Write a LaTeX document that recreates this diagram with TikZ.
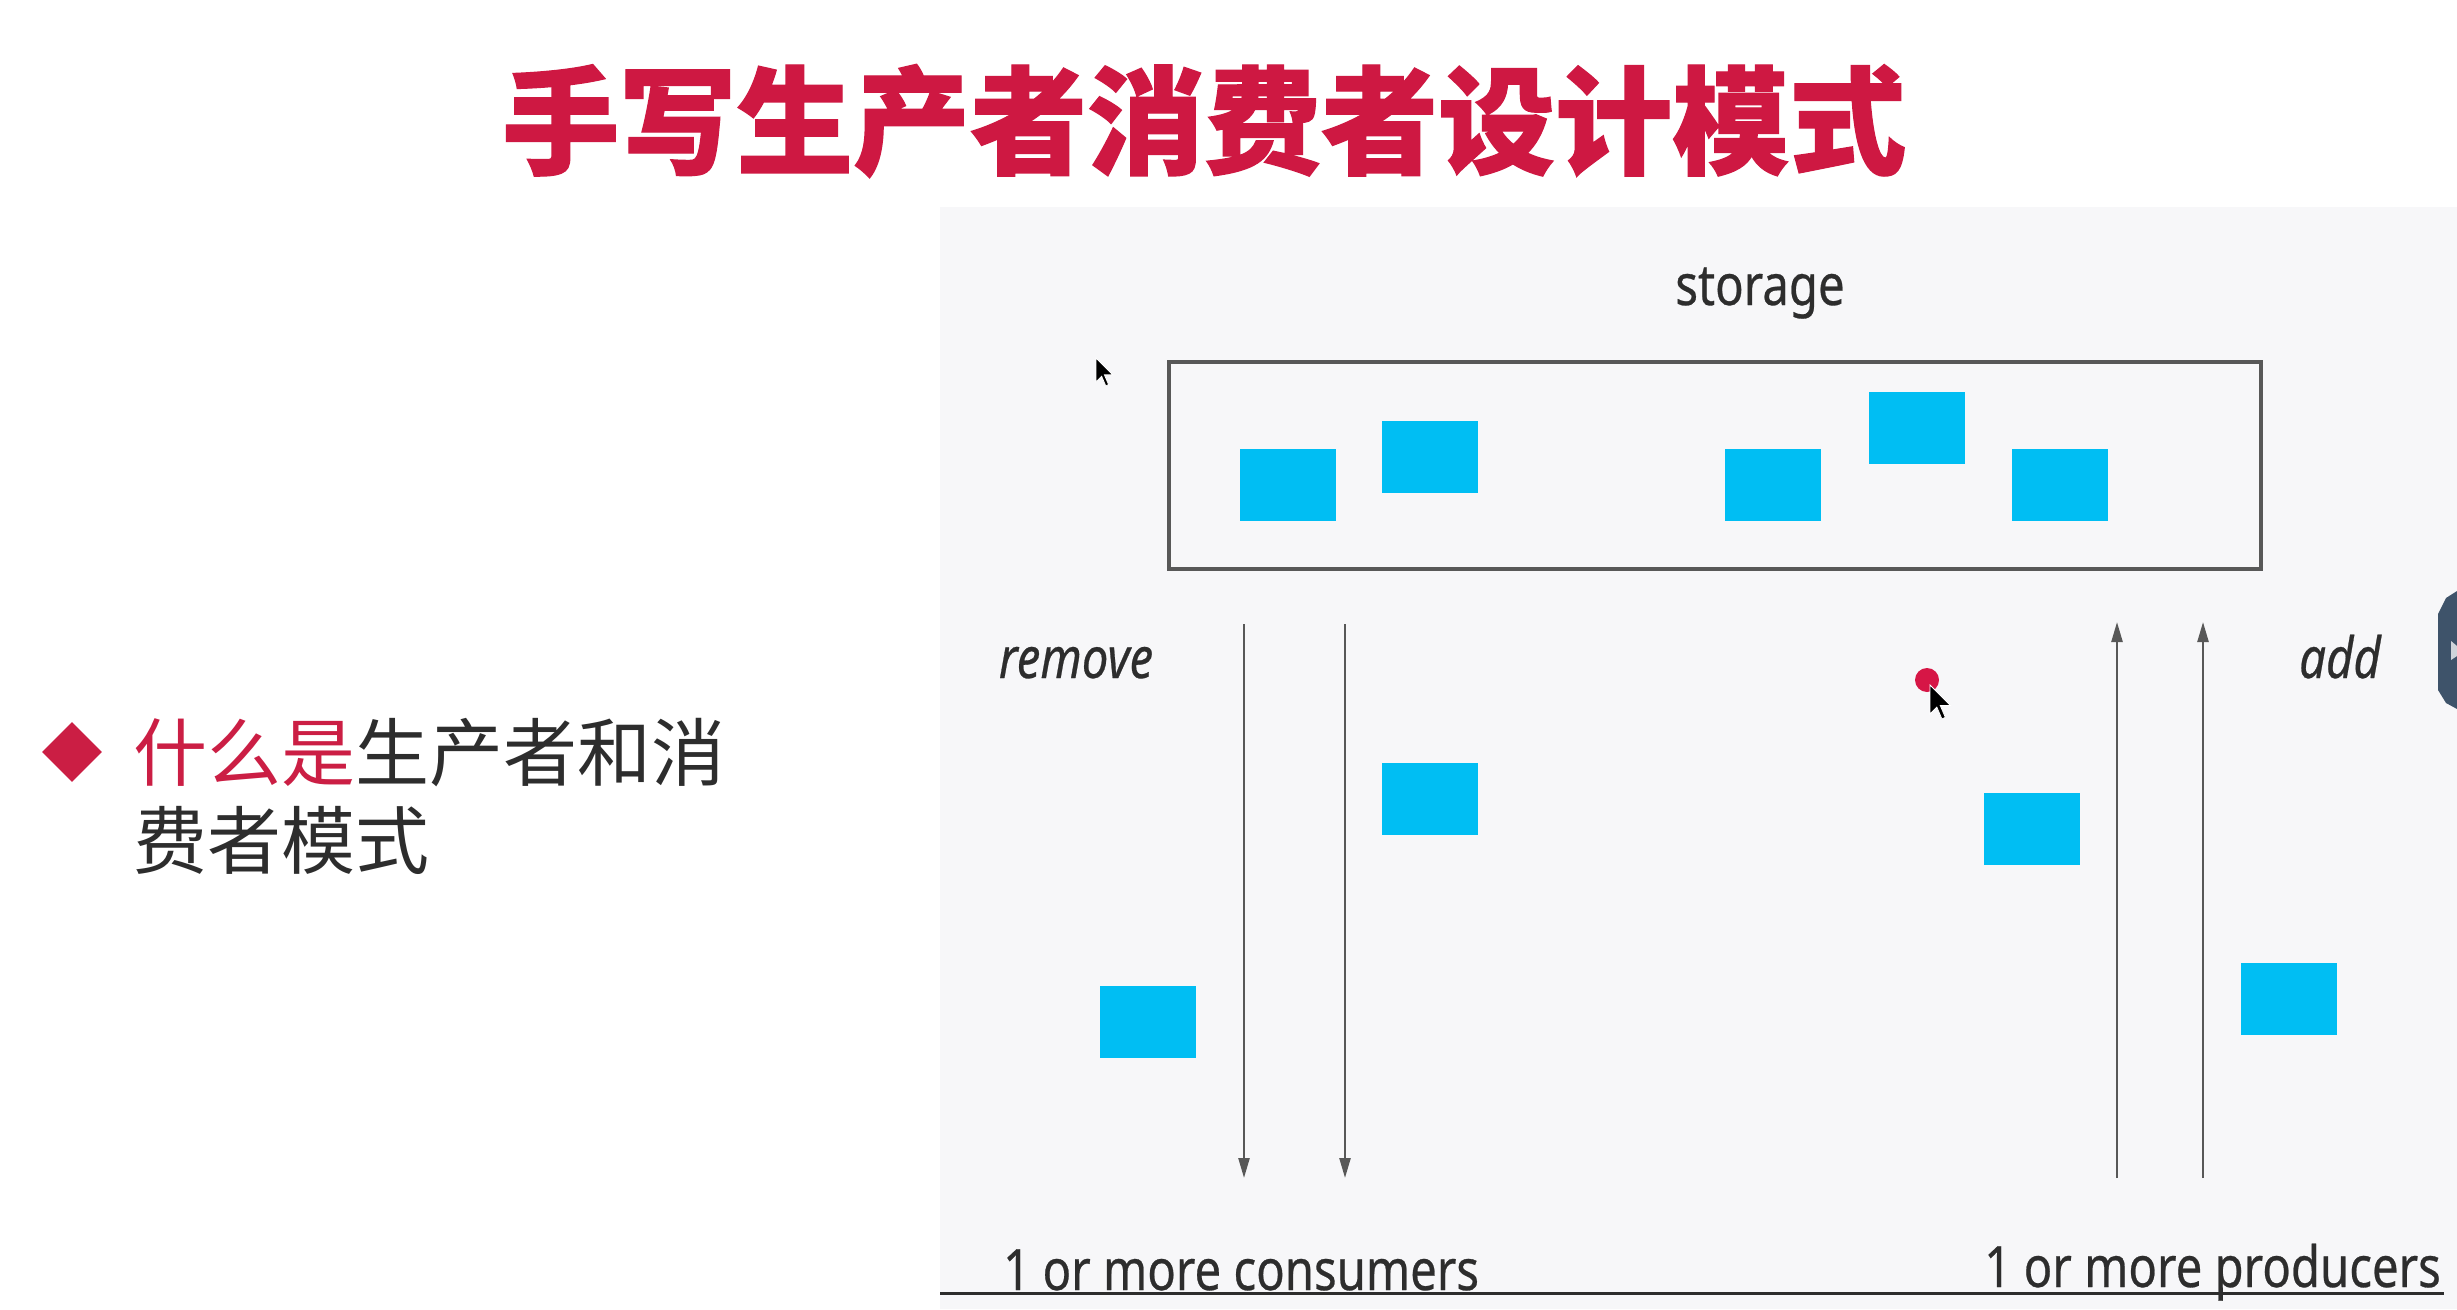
\documentclass[tikz,border=0pt]{standalone}
\usepackage{fontspec}
\usepackage{graphicx}
\setmainfont{Noto Sans}
\newfontfamily\lblfont{Noto Sans}[FakeBold=0.5]
\newfontfamily\cjk{Noto Sans CJK SC}
\newfontfamily\cjkheavy{Noto Sans CJK SC}[FakeBold=1.1]
\usetikzlibrary{shapes.geometric,arrows.meta}

\definecolor{titlered}{RGB}{206,24,66}
\definecolor{bulletred}{RGB}{203,30,68}
\definecolor{ink}{RGB}{45,45,45}
\definecolor{panelgray}{RGB}{247,247,249}
\definecolor{cratefill}{RGB}{0,190,243}
\definecolor{framegray}{RGB}{88,88,88}
\definecolor{tabslate}{RGB}{62,83,106}
\definecolor{dotred}{RGB}{214,22,70}

% condensed label text
\newcommand{\narrow}[1]{\scalebox{0.83}[1]{#1}}

\begin{document}
\begin{tikzpicture}[x=1pt,y=-1pt,
  crate/.style={fill=cratefill, draw=none, minimum width=96pt, minimum height=72pt, inner sep=0pt},
  flow/.style={draw=framegray, line width=2.4pt, -{Triangle[length=20pt,width=11pt]}},
  lbl/.style={font=\lblfont\fontsize{57}{64}\selectfont, text=ink, inner sep=0pt},
  pointer/.style={fill=black, draw=white, line width=0.8pt},
]
\useasboundingbox (0,0) rectangle (2457,1309);
\fill[white] (0,0) rectangle (2457,1309);
% slide panel
\fill[panelgray] (940,207) rectangle (2457,1309);

% heading
\node[anchor=base west, inner sep=0pt, text=titlered,
      font=\cjkheavy\bfseries\fontsize{117}{122}\selectfont] (title) at (502,165) {手写生产者消费者设计模式};

% bullet point
\node[diamond, fill=bulletred, inner sep=0pt, minimum width=60pt, minimum height=60pt] (bullet) at (72,752) {};
\node[anchor=base west, inner sep=0pt, text=ink, font=\cjk\fontsize{74}{80}\selectfont]
  (q1) at (133,780) {\textcolor{bulletred}{什么是}生产者和消};
\node[anchor=base west, inner sep=0pt, text=ink, font=\cjk\fontsize{74}{80}\selectfont]
  (q2) at (133,868) {费者模式};

% storage buffer
\node[lbl, anchor=base] (storagelbl) at (1760,305) {\narrow{storage}};
\node[draw=framegray, line width=3.5pt, minimum width=1092pt, minimum height=207pt, inner sep=0pt] (storage) at (1715,465.5) {};
\node[crate] (s1) at (1288,485) {};
\node[crate] (s2) at (1430,456.5) {};
\node[crate] (s3) at (1773,485) {};
\node[crate] (s4) at (1917,428) {};
\node[crate] (s5) at (2059.5,485) {};

% items in transit
\node[crate] (c1) at (1148,1022) {};
\node[crate] (c2) at (1430,798.5) {};
\node[crate] (p1) at (2032,828.5) {};
\node[crate] (p2) at (2289,999) {};

% consumer and producer flows
\coordinate (r1a) at (1244,624);  \coordinate (r1b) at (1244,1178);
\coordinate (r2a) at (1345,624);  \coordinate (r2b) at (1345,1178);
\coordinate (a1a) at (2117,1178); \coordinate (a1b) at (2117,622);
\coordinate (a2a) at (2203,1178); \coordinate (a2b) at (2203,622);
\draw[flow] (r1a) -- (r1b);
\draw[flow] (r2a) -- (r2b);
\draw[flow] (a1a) -- (a1b);
\draw[flow] (a2a) -- (a2b);

\node[lbl, anchor=base] (remove) at (1076,678) {\narrow{\itshape remove}};
\node[lbl, anchor=base] (add) at (2340,678) {\narrow{\itshape add}};
\node[lbl, anchor=base west] (cons) at (1003,1290) {\narrow{1 or more consumers}};
\node[lbl, anchor=base east] (prod) at (2441,1287) {\narrow{1 or more producers}};

% baseline rule
\coordinate (ruleL) at (940,1293);
\coordinate (ruleR) at (2444,1293);
\draw[line width=3pt, ink] (ruleL) -- (ruleR);

% mouse pointers
\fill[pointer, shift={(1096,358)}, scale=1.4] (0,0) -- (0,17) -- (4,13) -- (7,20) -- (9,19) -- (6,12) -- (12,12) -- cycle;
\fill[dotred] (1927,680) circle (12pt);
\fill[pointer, shift={(1930,685)}, scale=1.7] (0,0) -- (0,17) -- (4,13) -- (7,20) -- (9,19) -- (6,12) -- (12,12) -- cycle;

% side tab
\fill[tabslate] (2457,591) -- (2446,598) -- (2438,614) -- (2438,690) -- (2446,703) -- (2457,709) -- cycle;
\fill[white!75!tabslate] (2451,641) -- (2457,646) -- (2457,656) -- (2451,660) -- cycle;
\end{tikzpicture}
\end{document}
